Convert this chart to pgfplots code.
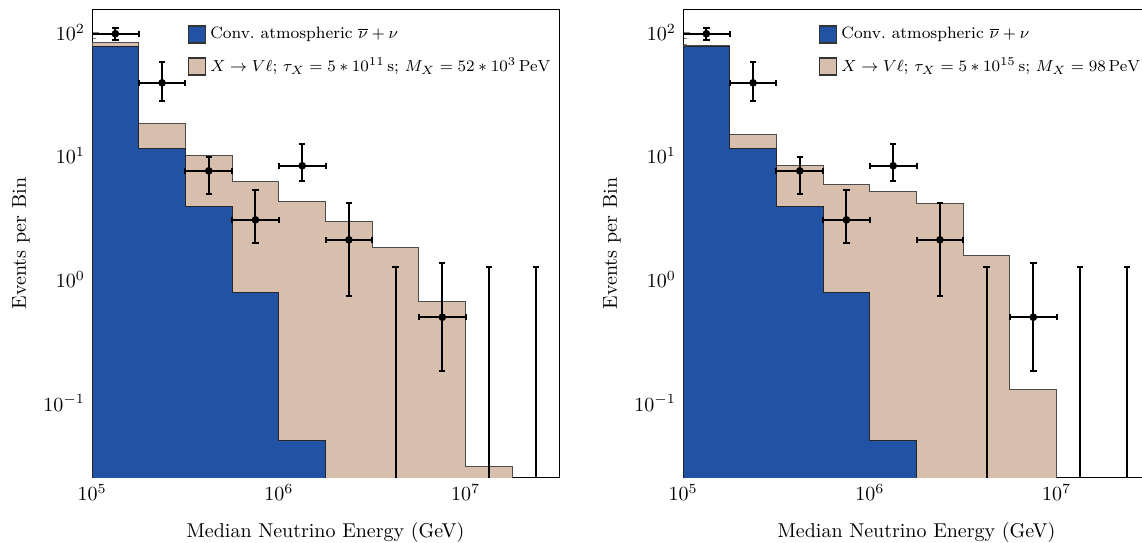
\documentclass[border=0pt]{standalone}
\usepackage{pgfplots}
\usepackage{pgfplotstable}
\pgfplotsset{compat=1.18}
\definecolor{atmblue}{RGB}{34,82,163}
\definecolor{sigtan}{RGB}{216,191,173}

\pgfplotstableread{
x y xlo xhi ylo yhi
133352 97 33352 44476 11 10
237137 38.9 59309 79091 11.4 18.6
421697 7.55 105469 140644 2.66 2.13
749894 3.03 187553 250106 1.07 2.27
1333521 8.30 333521 444758 2.0 4.2
2371374 2.09 593095 790904 1.36 2.07
7498942 0.494 1875529 2501058 0.312 0.856
}\datatab
\pgfplotstableread{
x y yhi
4216965 0.001 1.259
13335214 0.001 1.259
23713737 0.001 1.259
}\limtab

\begin{document}
\begin{tikzpicture}
% ---------------- left panel
\begin{axis}[at={(0pt,0pt)}, anchor=south west,
    xmode=log, ymode=log,
    scale only axis, width=233.5pt, height=233.5pt,
    xmin=1e5, xmax=3.16e7, ymin=0.0252, ymax=151,
    xtick={1e5,1e6,1e7}, ytick={0.1,1,10,100},
    xtick pos=bottom, ytick pos=left,
    tick align=inside,
    major tick length=3.5pt, minor tick length=2pt,
    axis line style={line width=0.5pt},
    xlabel={Median Neutrino Energy (GeV)},
    ylabel={Events per Bin},
    xlabel style={yshift=-4pt},
    ylabel style={yshift=0pt},
    legend cell align=left,
    legend style={draw=none, fill=none, row sep=4.2pt, anchor=north west, at={(0.192,0.981)},
      font=\fontsize{8.2}{9.6}\selectfont}]
\addplot[forget plot, fill=sigtan, draw=black!70, line width=0.5pt] coordinates {
(1e5,1e-3) (1e5,82.5) (177828,82.5) (177828,18.2) (316228,18.2) (316228,10.0)
(562341,10.0) (562341,6.24) (1e6,6.24) (1e6,4.27) (1778279,4.27) (1778279,2.96)
(3162278,2.96) (3162278,1.80) (5623413,1.80) (5623413,0.667) (1e7,0.667)
(1e7,0.0306) (17782794,0.0306) (17782794,1e-3)};
\addplot[forget plot, fill=atmblue, draw=black!85, line width=0.5pt] coordinates {
(1e5,1e-3) (1e5,76.1) (177828,76.1) (177828,11.5) (316228,11.5) (316228,3.89)
(562341,3.89) (562341,0.78) (1e6,0.78) (1e6,0.050) (1778279,0.050) (1778279,1e-3)};
\addplot[forget plot, only marks, black, mark=*, mark size=1.7pt,
    error bars/.cd, x dir=both, x explicit, y dir=both, y explicit,
    error bar style={line width=1pt, black},
    error mark options={mark size=1.6pt, line width=1pt, black, rotate=90}]
  table[x=x, y=y, x error minus=xlo, x error plus=xhi, y error minus=ylo, y error plus=yhi] {\datatab};
\addplot[forget plot, only marks, mark=none, black,
    error bars/.cd, y dir=plus, y explicit,
    error bar style={line width=1pt, black},
    error mark options={mark size=1.6pt, line width=1pt, black, rotate=90}]
  table[x=x, y=y, y error plus=yhi] {\limtab};
\addlegendimage{legend image code/.code={\draw[fill=atmblue, draw=black!80, line width=0.6pt] (-1.5pt,-4.25pt) rectangle (7pt,4.25pt);}}
\addlegendentry{Conv.\ atmospheric $\overline{\nu}+\nu$}
\addlegendimage{legend image code/.code={\draw[fill=sigtan, draw=black!80, line width=0.6pt] (-1.5pt,-4.25pt) rectangle (7pt,4.25pt);}}
\addlegendentry{$X \rightarrow V\ell$; $\tau_X = 5\ast10^{11}\,\mathrm{s}$; $M_X = 52\ast10^3\,\mathrm{PeV}$}
\end{axis}
% ---------------- right panel
\begin{axis}[at={(295.5pt,0pt)}, anchor=south west,
    xmode=log, ymode=log,
    scale only axis, width=233.5pt, height=233.5pt,
    xmin=1e5, xmax=3.16e7, ymin=0.0252, ymax=151,
    xtick={1e5,1e6,1e7}, ytick={0.1,1,10,100},
    xtick pos=bottom, ytick pos=left,
    tick align=inside,
    major tick length=3.5pt, minor tick length=2pt,
    axis line style={line width=0.5pt},
    xlabel={Median Neutrino Energy (GeV)},
    ylabel={Events per Bin},
    xlabel style={yshift=-4pt},
    ylabel style={yshift=0pt},
    legend cell align=left,
    legend style={draw=none, fill=none, row sep=4.2pt, anchor=north west, at={(0.278,0.981)},
      font=\fontsize{8.2}{9.6}\selectfont}]
\addplot[forget plot, fill=sigtan, draw=black!70, line width=0.5pt] coordinates {
(1e5,1e-3) (1e5,78.5) (177828,78.5) (177828,14.9) (316228,14.9) (316228,8.34)
(562341,8.34) (562341,5.86) (1e6,5.86) (1e6,5.14) (1778279,5.14) (1778279,4.11)
(3162278,4.11) (3162278,1.57) (5623413,1.57) (5623413,0.128) (1e7,0.128)
(1e7,1e-3)};
\addplot[forget plot, fill=atmblue, draw=black!85, line width=0.5pt] coordinates {
(1e5,1e-3) (1e5,76.1) (177828,76.1) (177828,11.5) (316228,11.5) (316228,3.89)
(562341,3.89) (562341,0.78) (1e6,0.78) (1e6,0.050) (1778279,0.050) (1778279,1e-3)};
\addplot[forget plot, only marks, black, mark=*, mark size=1.7pt,
    error bars/.cd, x dir=both, x explicit, y dir=both, y explicit,
    error bar style={line width=1pt, black},
    error mark options={mark size=1.6pt, line width=1pt, black, rotate=90}]
  table[x=x, y=y, x error minus=xlo, x error plus=xhi, y error minus=ylo, y error plus=yhi] {\datatab};
\addplot[forget plot, only marks, mark=none, black,
    error bars/.cd, y dir=plus, y explicit,
    error bar style={line width=1pt, black},
    error mark options={mark size=1.6pt, line width=1pt, black, rotate=90}]
  table[x=x, y=y, y error plus=yhi] {\limtab};
\addlegendimage{legend image code/.code={\draw[fill=atmblue, draw=black!80, line width=0.6pt] (-1.5pt,-4.25pt) rectangle (7pt,4.25pt);}}
\addlegendentry{Conv.\ atmospheric $\overline{\nu}+\nu$}
\addlegendimage{legend image code/.code={\draw[fill=sigtan, draw=black!80, line width=0.6pt] (-1.5pt,-4.25pt) rectangle (7pt,4.25pt);}}
\addlegendentry{$X \rightarrow V\ell$; $\tau_X = 5\ast10^{15}\,\mathrm{s}$; $M_X = 98\,\mathrm{PeV}$}
\end{axis}
\pgfresetboundingbox
\useasboundingbox (-46pt,-32.5pt) rectangle (525pt,238.5pt);
\end{tikzpicture}
\end{document}
